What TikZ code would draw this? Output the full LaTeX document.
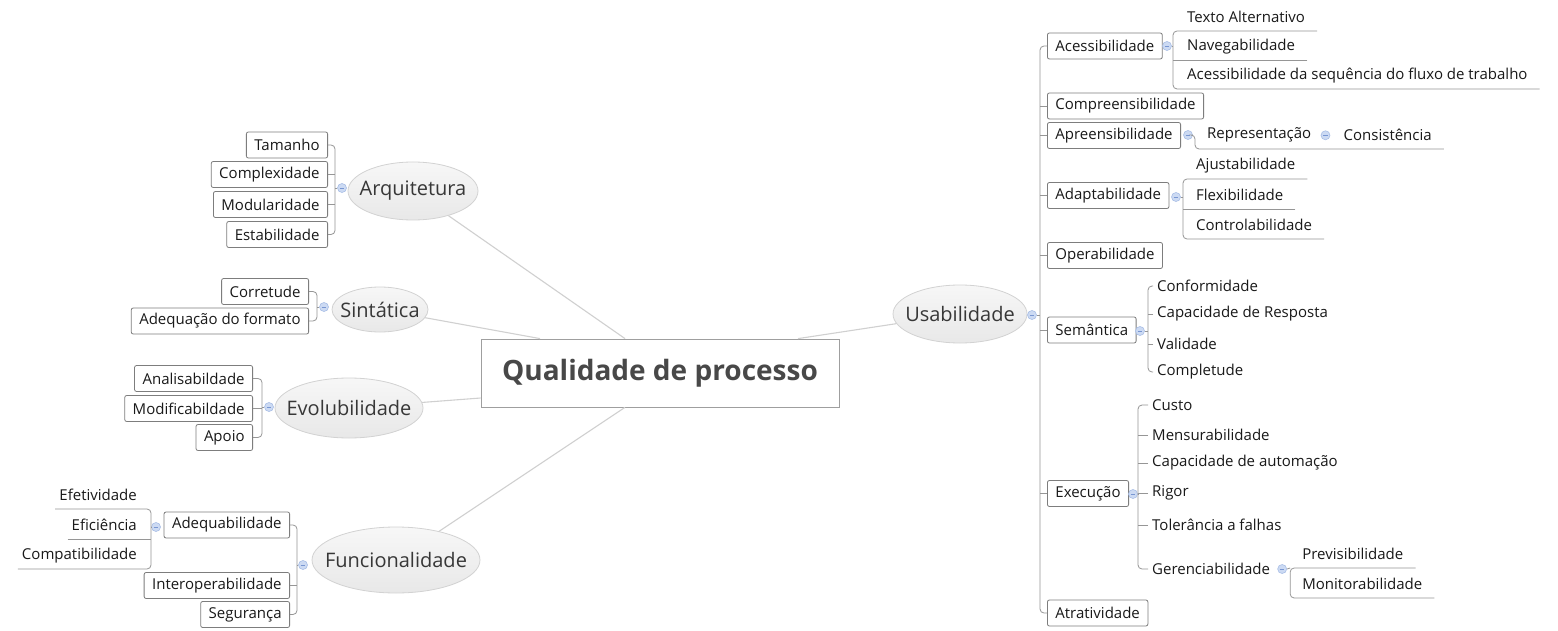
\documentclass[tikz,border=0pt]{standalone}
\usepackage{fontspec}
\setmainfont{Open Sans}
\usetikzlibrary{shapes.geometric,calc}

\definecolor{linegray}{RGB}{150,150,150}
\definecolor{maingray}{RGB}{208,208,208}
\definecolor{boxborder}{RGB}{125,125,125}
\definecolor{txt}{RGB}{25,25,25}
\definecolor{toptxt}{RGB}{55,55,55}
\definecolor{ctxt}{RGB}{72,72,72}
\definecolor{elltop}{RGB}{247,247,247}
\definecolor{ellbot}{RGB}{232,232,232}
\definecolor{ellborder}{RGB}{210,210,210}
\definecolor{colfill}{RGB}{204,218,243}
\definecolor{colborder}{RGB}{168,190,230}
\definecolor{colminus}{RGB}{120,150,210}

\begin{document}
\begin{tikzpicture}[x=1pt,y=-1pt,
  every node/.style={font=\fontsize{15}{18}\selectfont, text=txt},
  sub/.style={draw=boxborder, fill=white, rounded corners=2pt, line width=0.8pt,
    minimum height=26pt, inner xsep=8pt, inner ysep=0pt},
  topic/.style={ellipse, draw=ellborder, line width=0.8pt, top color=elltop,
    bottom color=ellbot, inner sep=0pt, text=toptxt,
    font=\fontsize{20}{24}\selectfont},
  leaf/.style={inner ysep=0pt, minimum height=27pt},
  leafr/.style={leaf, inner xsep=12pt, anchor=south west},
  leafl/.style={leaf, inner xsep=4pt, anchor=south east},
  leaft/.style={leaf, inner xsep=4pt, anchor=west},
  fold/.style={circle, minimum size=9pt, inner sep=0pt, fill=colfill,
    draw=colborder, line width=0.6pt,
    path picture={\draw[colminus, line width=0.9pt]
      ($(path picture bounding box.center)+(-2.3,0)$) --
      ($(path picture bounding box.center)+(2.3,0)$);}},
  conn/.style={draw=linegray, line width=0.8pt, rounded corners=4pt},
  mainconn/.style={draw=maingray, line width=1.1pt}]

\fill[white] (0,0) rectangle (1558,631);
\useasboundingbox (0,0) rectangle (1558,631);

% ---------- central topic ----------
\node[draw=gray!75, fill=white, line width=0.8pt, minimum width=358pt,
  minimum height=68pt, text=ctxt, font=\bfseries\fontsize{28}{32}\selectfont]
  (qp) at (660,373) {Qualidade de processo};

% ---------- main branches (text boxed at zero width so the ellipse keeps its size) ----------
\node[topic, minimum width=130pt, minimum height=58pt] (arq) at (413,191) {\makebox[0pt]{Arquitetura}};
\node[topic, minimum width=96pt, minimum height=45pt] (sin) at (380,309.5) {\makebox[0pt]{Sintática}};
\node[topic, minimum width=148pt, minimum height=60pt] (evo) at (349,408) {\makebox[0pt]{Evolubilidade}};
\node[topic, minimum width=168pt, minimum height=66pt] (fun) at (396,560) {\makebox[0pt]{Funcionalidade}};
\node[topic, minimum width=134pt, minimum height=58pt] (usa) at (960,314) {\makebox[0pt]{Usabilidade}};

\draw[mainconn] (arq) -- ([xshift=-35pt]qp.north);
\draw[mainconn] (sin) -- ([xshift=-120pt]qp.north);
\draw[mainconn] (evo) -- ([yshift=-25pt]qp.west);
\draw[mainconn] (fun) -- ([xshift=-35pt]qp.south);
\draw[mainconn] (usa) -- ([xshift=138pt]qp.north);

% ---------- Arquitetura ----------
\node[fold] (ca) at (342,188) {};
\coordinate (ab) at ($(ca.center)+(-7,0)$);
\node[sub, anchor=east] (tam) at (328,145) {Tamanho};
\node[sub, anchor=east] (com) at (328,174.5) {Complexidade};
\node[sub, anchor=east] (mdl) at (328,204.5) {Modularidade};
\node[sub, anchor=east] (est) at (328,234.5) {Estabilidade};
\draw[conn] (tam.east) -| (ab) |- (est.east);
\draw[conn] (com.east) -- (com.east -| ab);
\draw[conn] (mdl.east) -- (mdl.east -| ab);
\draw[conn] (ca.west) -- (ab);

% ---------- Sintática ----------
\node[fold] (cs) at (324,307) {};
\coordinate (sb) at ($(cs.center)+(-7,0)$);
\node[sub, anchor=east] (cor) at (309,291.5) {Corretude};
\node[sub, anchor=east] (adf) at (309,321) {Adequação do formato};
\draw[conn] (cor.east) -| (sb) |- (adf.east);
\draw[conn] (cs.west) -- (sb);

% ---------- Evolubilidade ----------
\node[fold] (ce) at (269,407) {};
\coordinate (eb) at ($(ce.center)+(-7,0)$);
\node[sub, anchor=east] (ana) at (253,378.5) {Analisabildade};
\node[sub, anchor=east] (mdf) at (253,408.5) {Modificabildade};
\node[sub, anchor=east] (apo) at (253,437.5) {Apoio};
\draw[conn] (ana.east) -| (eb) |- (apo.east);
\draw[conn] (mdf.east) -- (mdf.east -| eb);
\draw[conn] (ce.west) -- (eb);

% ---------- Funcionalidade ----------
\node[fold] (cf) at (303,565) {};
\coordinate (fb) at ($(cf.center)+(-6,0)$);
\node[sub, anchor=east] (adq) at (290,525) {Adequabilidade};
\node[sub, anchor=east] (itp) at (290,585.5) {Interoperabilidade};
\node[sub, anchor=east] (seg) at (290,614.5) {Segurança};
\draw[conn] (adq.east) -| (fb) |- (seg.east);
\draw[conn] (itp.east) -- (itp.east -| fb);
\draw[conn] (cf.west) -- (fb);

% Adequabilidade
\node[fold] (cad) at (156,527) {};
\coordinate (db) at ($(cad.center)+(-5,0)$);
\node[leafl] (efe) at (141,509) {Efetividade};
\node[leafl] (efi) at (141,539) {Eficiência};
\node[leafl] (cpt) at (141,569) {Compatibilidade};
\draw[conn] (efe.south west) -| (db) |- (cpt.south west);
\draw[conn] (efi.south west) -- (efi.south west -| db);
\draw[conn] (cad.west) -- (db);

% ---------- Usabilidade ----------
\node[fold] (cu) at (1032,315) {};
\coordinate (ub) at ($(cu.center)+(8,0)$);
\node[sub, anchor=west] (acc) at (1047,46) {Acessibilidade};
\node[sub, anchor=west] (cmpr) at (1047,106) {Compreensibilidade};
\node[sub, anchor=west] (apr) at (1047,135.5) {Apreensibilidade};
\node[sub, anchor=west] (adp) at (1047,195.5) {Adaptabilidade};
\node[sub, anchor=west] (opr) at (1047,255.5) {Operabilidade};
\node[sub, anchor=west] (sem) at (1047,330) {Semântica};
\node[sub, anchor=west] (exe) at (1047,493.5) {Execução};
\node[sub, anchor=west] (atr) at (1047,613) {Atratividade};
\draw[conn] (acc.west) -| (ub) |- (atr.west);
\foreach \n in {cmpr,apr,adp,opr,sem,exe}
  \draw[conn] (\n.west) -- (\n.west -| ub);
\draw[conn] (cu.east) -- (ub);

% Acessibilidade
\node[fold] (cac) at (1167,46) {};
\coordinate (acb) at ($(cac.center)+(6,0)$);
\node[leafr] (txa) at (1175,31) {Texto Alternativo};
\node[leafr] (nav) at (1175,60) {Navegabilidade};
\node[leafr] (asf) at (1175,89) {Acessibilidade da sequência do fluxo de trabalho};
\draw[conn] (txa.south east) -| (acb) |- (asf.south east);
\draw[conn] (nav.south east) -- (nav.south east -| acb);
\draw[conn] (cac.east) -- (acb);

% Apreensibilidade
\node[fold] (cap) at (1188,135) {};
\node[leafr] (rep) at (1195,149) {Representação};
\node[fold] (crp) at ([xshift=2pt]rep.east) {};
\node[leaf, inner xsep=12pt, anchor=west] (cns) at ([xshift=6pt]crp.center) {Consistência};
\draw[conn] (cap.east) -| (rep.south west) -- (cns.south east);

% Adaptabilidade
\node[fold] (cdp) at (1176,197) {};
\coordinate (dpb) at ($(cdp.center)+(7,0)$);
\node[leafr] (ajs) at (1184,179) {Ajustabilidade};
\node[leafr] (flx) at (1184,209) {Flexibilidade};
\node[leafr] (ctl) at (1184,239) {Controlabilidade};
\draw[conn] (ajs.south east) -| (dpb) |- (ctl.south east);
\draw[conn] (flx.south east) -- (flx.south east -| dpb);
\draw[conn] (cdp.east) -- (dpb);

% Semântica
\node[fold] (csm) at (1140,331) {};
\coordinate (smb) at ($(csm.center)+(8,0)$);
\node[leaft] (cnf) at (1153,286) {Conformidade};
\node[leaft] (cre) at (1153,314) {Capacidade de Resposta};
\node[leaft] (vld) at (1153,344) {Validade};
\node[leaft] (cpl) at (1153,372) {Completude};
\draw[conn] (cnf.west) -| (smb) |- (cpl.west);
\draw[conn] (cre.west) -- (cre.west -| smb);
\draw[conn] (vld.west) -- (vld.west -| smb);
\draw[conn] (csm.east) -- (smb);

% Execução
\node[fold] (cex) at (1133,494) {};
\coordinate (xb) at ($(cex.center)+(5,0)$);
\node[leaft] (cus) at (1148,405) {Custo};
\node[leaft] (mns) at (1148,435) {Mensurabilidade};
\node[leaft] (aut) at (1148,463) {Capacidade de automação};
\node[leaft] (rig) at (1148,493) {Rigor};
\node[leaft] (tol) at (1148,525) {Tolerância a falhas};
\node[leaft] (ger) at (1148,569) {Gerenciabilidade};
\draw[conn] (cus.west) -| (xb) |- (ger.west);
\foreach \n in {mns,aut,rig,tol}
  \draw[conn] (\n.west) -- (\n.west -| xb);
\draw[conn] (cex.east) -- (xb);

% Gerenciabilidade
\node[fold] (cgr) at ([xshift=8pt]ger.east) {};
\node[leafr] (prv) at ([xshift=8pt,yshift=1pt]cgr.center) {Previsibilidade};
\node[leafr] (mon) at ([yshift=-30pt]prv.south west) {Monitorabilidade};
\draw[conn] (prv.south east) -- (prv.south west) |- (mon.south east);
\draw[conn] (cgr.east) -- (prv.south west);

\end{tikzpicture}
\end{document}
